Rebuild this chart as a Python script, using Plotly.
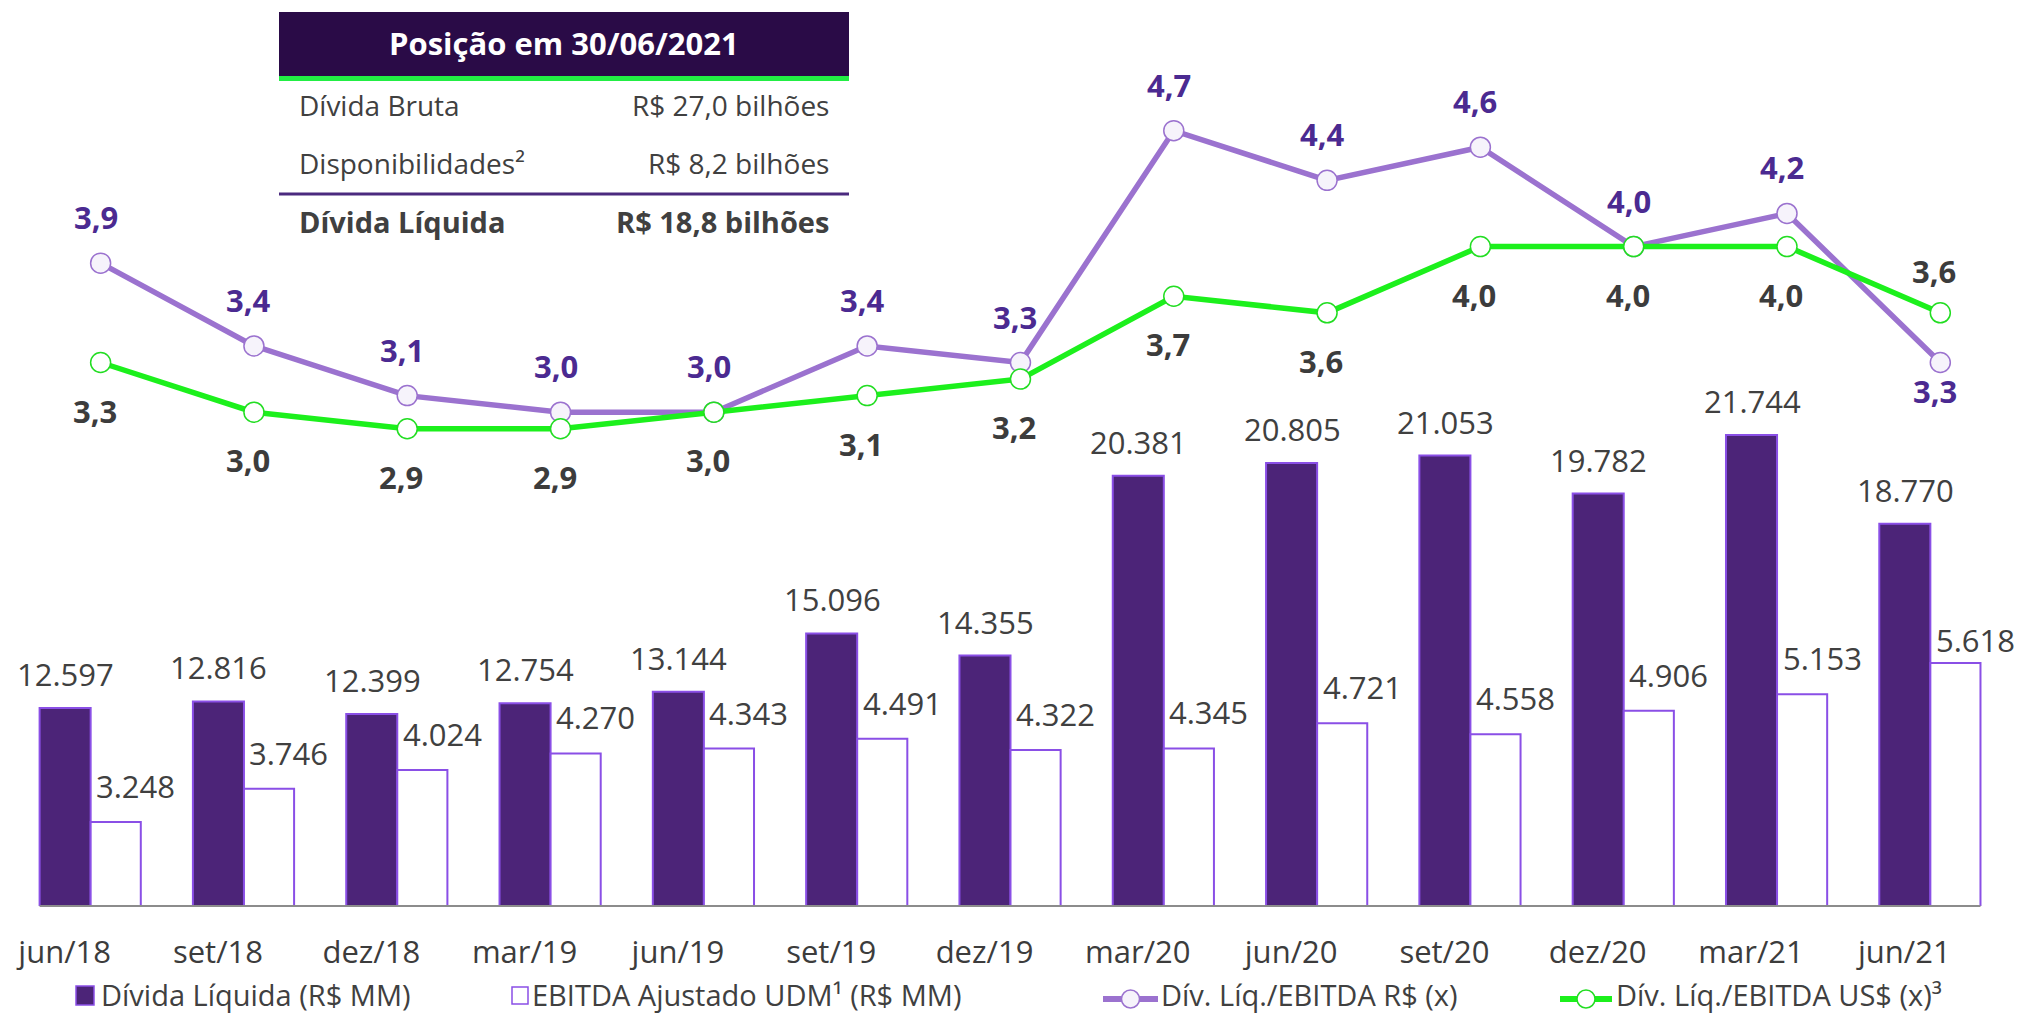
import plotly.graph_objects as go

# ---------------- data ----------------
categories = ["jun/18", "set/18", "dez/18", "mar/19", "jun/19", "set/19", "dez/19",
              "mar/20", "jun/20", "set/20", "dez/20", "mar/21", "jun/21"]
divida_liquida = [12597, 12816, 12399, 12754, 13144, 15096, 14355,
                  20381, 20805, 21053, 19782, 21744, 18770]
ebitda_udm = [3248, 3746, 4024, 4270, 4343, 4491, 4322,
              4345, 4721, 4558, 4906, 5153, 5618]
ratio_brl = [3.9, 3.4, 3.1, 3.0, 3.0, 3.4, 3.3, 4.7, 4.4, 4.6, 4.0, 4.2, 3.3]
ratio_usd = [3.3, 3.0, 2.9, 2.9, 3.0, 3.1, 3.2, 3.7, 3.6, 4.0, 4.0, 4.0, 3.6]
brl_label_side = ["above"] * 12 + ["below"]
usd_label_side = ["below"] * 12 + ["above"]

table_title = "Posição em 30/06/2021"
table_rows = [("Dívida Bruta", "R$ 27,0 bilhões"),
              ("Disponibilidades²", "R$ 8,2 bilhões"),
              ("Dívida Líquida", "R$ 18,8 bilhões")]

legend_names = ["Dívida Líquida (R$ MM)", "EBITDA Ajustado UDM¹ (R$ MM)",
                "Dív. Líq./EBITDA R$ (x)", "Dív. Líq./EBITDA US$ (x)³"]

# ---------------- styles ----------------
FONT = "Open Sans"
DARK_BAR = "#4C2478"
BAR_EDGE = "#8A4FE6"
PURPLE_LINE = "#9B72CF"
GREEN_LINE = "#1CF01C"
PURPLE_TXT = "#4B2A91"
GRAY_TXT = "#3C3C3C"
HEADER_BG = "#2A0B47"

FIG_W, FIG_H = 2018, 1016
ML, MR, MT, MB = 14, 11, 0, 110
PW, PH = FIG_W - ML - MR, FIG_H - MT - MB


def pxx(px):
    return (px - ML) / PW


def pxy(py):
    return (MT + PH - py) / PH


def br_int(v):
    return f"{v:,}".replace(",", ".")


def br_dec(v):
    return f"{v:.1f}".replace(".", ",")


fig = go.Figure()

fig.add_trace(go.Bar(
    x=categories, y=divida_liquida, name=legend_names[0],
    marker=dict(color=DARK_BAR, line=dict(color=BAR_EDGE, width=2)),
    width=0.333, offset=-0.333, xaxis="x", yaxis="y", showlegend=False))
fig.add_trace(go.Bar(
    x=categories, y=ebitda_udm, name=legend_names[1],
    marker=dict(color="white", line=dict(color=BAR_EDGE, width=2)),
    width=0.327, offset=0.0, xaxis="x", yaxis="y2", showlegend=False))
fig.add_trace(go.Scatter(
    x=categories, y=ratio_brl, name=legend_names[2], mode="lines+markers",
    line=dict(color=PURPLE_LINE, width=5.5),
    marker=dict(size=20, color="#F6F3FB", line=dict(color=PURPLE_LINE, width=1.5)),
    xaxis="x2", yaxis="y3", showlegend=False, cliponaxis=False))
fig.add_trace(go.Scatter(
    x=categories, y=ratio_usd, name=legend_names[3], mode="lines+markers",
    line=dict(color=GREEN_LINE, width=5.5),
    marker=dict(size=20, color="white", line=dict(color="#22DD22", width=1.5)),
    xaxis="x2", yaxis="y3", showlegend=False, cliponaxis=False))

annotations = []
# bar value labels
for c, v in zip(categories, divida_liquida):
    annotations.append(dict(x=c, y=v, xref="x", yref="y", text=br_int(v),
                            showarrow=False, xanchor="center", yanchor="bottom",
                            xshift=-25, yshift=11,
                            font=dict(family=FONT, size=31, color="#404040")))
white_yshift = [13] * 12 + [0]
for c, v, ys in zip(categories, ebitda_udm, white_yshift):
    annotations.append(dict(x=c, y=v, xref="x", yref="y2", text=br_int(v),
                            showarrow=False, xanchor="center", yanchor="bottom",
                            xshift=45, yshift=ys,
                            font=dict(family=FONT, size=31, color="#404040")))
# line value labels
for c, v, s in zip(categories, ratio_brl, brl_label_side):
    annotations.append(dict(x=c, y=v, xref="x2", yref="y3", text="<b>" + br_dec(v) + "</b>",
                            showarrow=False, xanchor="center", yanchor="middle",
                            xshift=-5, yshift=46 if s == "above" else -28,
                            font=dict(family=FONT, size=31, color=PURPLE_TXT)))
for c, v, s in zip(categories, ratio_usd, usd_label_side):
    annotations.append(dict(x=c, y=v, xref="x2", yref="y3", text="<b>" + br_dec(v) + "</b>",
                            showarrow=False, xanchor="center", yanchor="middle",
                            xshift=-6, yshift=42 if s == "above" else -48,
                            font=dict(family=FONT, size=31, color=GRAY_TXT)))

shapes = []
# baseline
shapes.append(dict(type="line", xref="x", yref="paper", x0=-0.333, x1=12.327, y0=0, y1=0,
                   line=dict(color="#8C8C8C", width=2), layer="above"))

# ---------------- table ----------------
TX0, TX1 = 279, 849
shapes.append(dict(type="rect", xref="paper", yref="paper",
                   x0=pxx(TX0), x1=pxx(TX1), y0=pxy(77), y1=pxy(12),
                   fillcolor=HEADER_BG, line=dict(width=0), layer="above"))
shapes.append(dict(type="rect", xref="paper", yref="paper",
                   x0=pxx(TX0), x1=pxx(TX1), y0=pxy(81), y1=pxy(76),
                   fillcolor="#22EE44", line=dict(width=0), layer="above"))
shapes.append(dict(type="line", xref="paper", yref="paper",
                   x0=pxx(TX0), x1=pxx(TX1), y0=pxy(194), y1=pxy(194),
                   line=dict(color="#4B2A7F", width=3), layer="above"))
annotations.append(dict(x=pxx((TX0 + TX1) / 2), y=pxy(43), xref="paper", yref="paper",
                        text="<b>" + table_title + "</b>", showarrow=False,
                        xanchor="center", yanchor="middle",
                        font=dict(family=FONT, size=31, color="white")))
row_y = [105, 163, 221]
for i, ((lbl, val), ry) in enumerate(zip(table_rows, row_y)):
    bold = i == 2
    t_l = "<b>" + lbl + "</b>" if bold else lbl
    t_v = "<b>" + val + "</b>" if bold else val
    fs = 29 if bold else 28
    annotations.append(dict(x=pxx(297), y=pxy(ry), xref="paper", yref="paper", text=t_l,
                            showarrow=False, xanchor="left", yanchor="middle",
                            font=dict(family=FONT, size=fs, color="#404040")))
    annotations.append(dict(x=pxx(831), y=pxy(ry), xref="paper", yref="paper", text=t_v,
                            showarrow=False, xanchor="right", yanchor="middle",
                            font=dict(family=FONT, size=fs, color="#404040")))

# ---------------- custom legend ----------------
LEG_Y = 994
leg_font = dict(family=FONT, size=29, color="#404040")
# 1: dark square
shapes.append(dict(type="rect", xref="paper", yref="paper",
                   x0=pxx(76), x1=pxx(94), y0=pxy(1005), y1=pxy(986),
                   fillcolor=DARK_BAR, line=dict(color=BAR_EDGE, width=1.5)))
annotations.append(dict(x=pxx(100), y=pxy(LEG_Y), xref="paper", yref="paper",
                        text=legend_names[0], showarrow=False, xanchor="left",
                        yanchor="middle", borderpad=0, font=leg_font))
# 2: white square
shapes.append(dict(type="rect", xref="paper", yref="paper",
                   x0=pxx(512), x1=pxx(528), y0=pxy(1004), y1=pxy(987),
                   fillcolor="white", line=dict(color=BAR_EDGE, width=1.5)))
annotations.append(dict(x=pxx(531), y=pxy(LEG_Y), xref="paper", yref="paper",
                        text=legend_names[1], showarrow=False, xanchor="left",
                        yanchor="middle", borderpad=0, font=leg_font))
# 3 & 4: line + circle
for (lx0, lx1, tx, col, fill, edge, name) in [
        (1103, 1158, 1160, PURPLE_LINE, "#F6F3FB", PURPLE_LINE, legend_names[2]),
        (1560, 1612, 1615, GREEN_LINE, "white", "#22DD22", legend_names[3])]:
    shapes.append(dict(type="line", xref="paper", yref="paper",
                       x0=pxx(lx0), x1=pxx(lx1), y0=pxy(999), y1=pxy(999),
                       line=dict(color=col, width=6)))
    cx = (lx0 + lx1) / 2
    shapes.append(dict(type="circle", xref="paper", yref="paper",
                       x0=pxx(cx - 9), x1=pxx(cx + 9), y0=pxy(1008), y1=pxy(990),
                       fillcolor=fill, line=dict(color=edge, width=1.5)))
    annotations.append(dict(x=pxx(tx), y=pxy(LEG_Y), xref="paper", yref="paper",
                            text=name, showarrow=False, xanchor="left",
                            yanchor="middle", borderpad=0, font=leg_font))

fig.update_layout(
    width=FIG_W, height=FIG_H,
    margin=dict(l=ML, r=MR, t=MT, b=MB, pad=0),
    paper_bgcolor="white", plot_bgcolor="white",
    barmode="overlay",
    font=dict(family=FONT, color="#404040"),
    xaxis=dict(type="category", categoryorder="array", categoryarray=categories,
               range=[-0.5, 12.5], showgrid=False, zeroline=False, showline=False,
               ticks="", tickfont=dict(family=FONT, size=31, color="#3C3C3C"),
               ticklabelshift=-26, ticklabelstandoff=25),
    xaxis2=dict(type="category", categoryorder="array", categoryarray=categories,
                overlaying="x", range=[-0.565, 12.435], visible=False),
    yaxis=dict(range=[5963, 36315], visible=False, showgrid=False, zeroline=False),
    yaxis2=dict(range=[1997, 15499], overlaying="y", visible=False,
                showgrid=False, zeroline=False),
    yaxis3=dict(range=[0.018, 5.489], overlaying="y", visible=False,
                showgrid=False, zeroline=False),
    annotations=annotations,
    shapes=shapes,
    showlegend=False,
)

fig.write_html(
    "out.html",
    config={"displayModeBar": False},
    post_script="document.body.style.margin='0px';document.body.style.overflow='hidden';",
)
